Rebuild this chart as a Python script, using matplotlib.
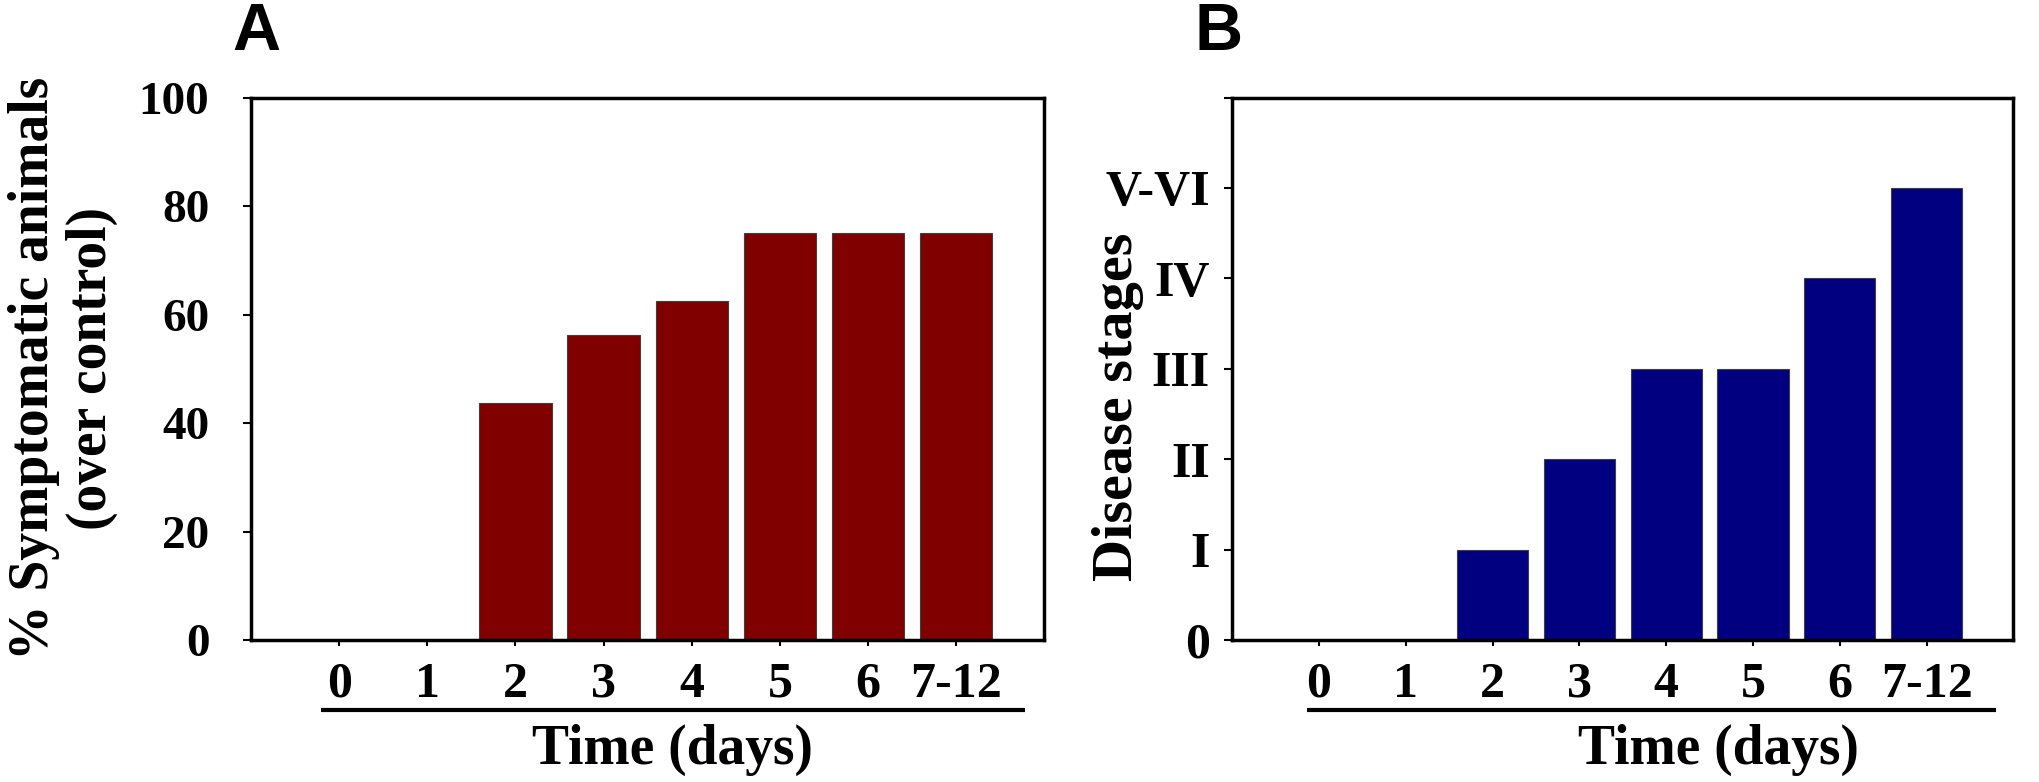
import matplotlib
matplotlib.use("Agg")
import matplotlib.pyplot as plt
import numpy as np

days = ["0", "1", "2", "3", "4", "5", "6", "7-12"]
pct_symptomatic = [0, 0, 43.75, 56.25, 62.5, 75, 75, 75]
disease_stage = [0, 0, 1, 2, 3, 3, 4, 5]
stage_labels = ["0", "I", "II", "III", "IV", "V-VI", ""]

SERIF = "Liberation Serif"
SANS = "Liberation Sans"
LABEL_FS = 40

fig = plt.figure(figsize=(20.4, 7.82), dpi=100)
axA = fig.add_axes([0.123, 0.1816, 0.389, 0.6936])
axB = fig.add_axes([0.604, 0.1816, 0.383, 0.6936])

x = np.arange(len(days))


def style(ax, underline, ypad, yfs):
    for s in ax.spines.values():
        s.set_linewidth(2.5)
    ax.set_xlim(-1, len(days))
    ax.set_xticks(x)
    ax.set_xticklabels(days)
    ax.tick_params(axis="x", direction="out", length=4.5, width=1.5, pad=11)
    ax.tick_params(axis="y", direction="out", length=6, width=1.5, pad=ypad)
    for lab in ax.get_xticklabels():
        lab.set_fontfamily(SERIF)
        lab.set_fontweight("bold")
        lab.set_fontsize(36)
    for lab in ax.get_yticklabels():
        lab.set_fontfamily(SERIF)
        lab.set_fontweight("bold")
        lab.set_fontsize(yfs)
    # rule under the day labels
    ax.plot(underline, [-0.129, -0.129], transform=ax.transAxes, color="black",
            lw=3, clip_on=False, solid_capstyle="butt")


# panel A
axA.bar(x, pct_symptomatic, width=0.82, color="#800000", edgecolor="#404040", lw=0.8)
axA.set_ylim(0, 100)
axA.set_yticks(np.arange(0, 101, 20))
style(axA, [0.088, 0.975], 24, 34)
axA.set_ylabel("% Symptomatic animals\n(over control)", fontfamily=SERIF,
               fontweight="bold", fontsize=LABEL_FS, linespacing=1.15)
axA.yaxis.set_label_coords(-0.167, 0.5)
axA.text(0.531, -0.203, "Time (days)", transform=axA.transAxes, ha="center", va="center",
         fontfamily=SERIF, fontweight="bold", fontsize=LABEL_FS)

# panel B
axB.bar(x, disease_stage, width=0.82, color="#000080", edgecolor="#404040", lw=0.8)
axB.set_ylim(0, 6)
axB.set_yticks(np.arange(0, 7))
axB.set_yticklabels(stage_labels)
style(axB, [0.096, 0.978], 10, 36)
axB.set_ylabel("Disease stages", fontfamily=SERIF, fontweight="bold", fontsize=42)
axB.yaxis.set_label_coords(-0.113, 0.43)
axB.text(0.622, -0.203, "Time (days)", transform=axB.transAxes, ha="center", va="center",
         fontfamily=SERIF, fontweight="bold", fontsize=LABEL_FS)

fig.text(256 / 2040, 1 - 33 / 782, "A", ha="center", va="center",
         fontfamily=SANS, fontweight="bold", fontsize=48)
fig.text(1219 / 2040, 1 - 33 / 782, "B", ha="center", va="center",
         fontfamily=SANS, fontweight="bold", fontsize=48)

fig.savefig("out.png", dpi=100)
